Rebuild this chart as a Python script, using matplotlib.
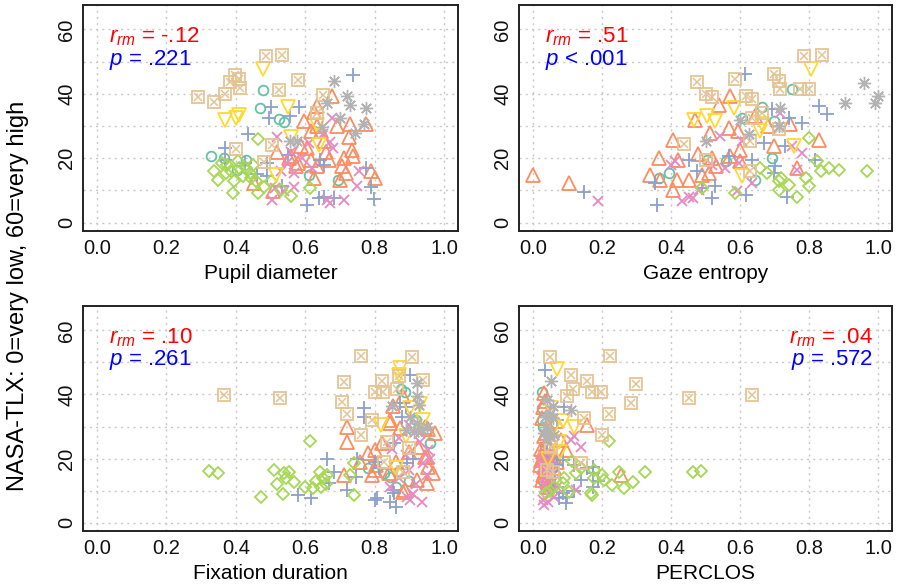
import matplotlib
matplotlib.use("Agg")
import matplotlib.pyplot as plt

plt.rcParams['font.family'] = ['Liberation Sans', 'DejaVu Sans']
plt.rcParams['mathtext.fontset'] = 'custom'
plt.rcParams['mathtext.it'] = 'Liberation Sans:italic'
plt.rcParams['mathtext.rm'] = 'Liberation Sans'

# ---- data: (measure, NASA-TLX) per participant ----
# Pupil diameter
pupil_teal = [(0.479, 41.2), (0.469, 35.7), (0.524, 32.1), (0.538, 31.2), (0.33, 20.8),
              (0.367, 20.2), (0.43, 19.6), (0.403, 16.5), (0.61, 14.7), (0.693, 13.3)]
pupil_orange = [(0.678, 39.4), (0.635, 36.3), (0.625, 34.3), (0.596, 31.6), (0.635, 30),
                (0.616, 28.4), (0.645, 28.4), (0.692, 30), (0.73, 30.5), (0.774, 30.5),
                (0.726, 26.5), (0.735, 22.7), (0.739, 20.6), (0.711, 20.2), (0.707, 17.5),
                (0.716, 15.5), (0.788, 15.9), (0.802, 14), (0.635, 17.5), (0.625, 14),
                (0.616, 19.6), (0.578, 18.6), (0.587, 23.8), (0.653, 25.3), (0.668, 19.6),
                (0.52, 21.8), (0.453, 12.4), (0.506, 9.7), (0.559, 20.6), (0.573, 17.5),
                (0.70, 13.3), (0.606, 23.2), (0.553, 20.1), (0.66, 22)]
pupil_blue = [(0.737, 46), (0.502, 35.9), (0.496, 32.6), (0.581, 35.9), (0.556, 33.1),
              (0.434, 27.4), (0.369, 23.2), (0.37, 19.6), (0.427, 18.5), (0.491, 18.5),
              (0.491, 14.4), (0.534, 11.3), (0.642, 19.6), (0.653, 18), (0.653, 8.1),
              (0.64, 7.6), (0.604, 5.5), (0.682, 7.6), (0.774, 17), (0.79, 11),
              (0.797, 7.3), (0.46, 15), (0.55, 21)]
pupil_pink = [(0.651, 27.4), (0.67, 25), (0.679, 23.2), (0.61, 24.8), (0.52, 26.5),
              (0.548, 18.5), (0.529, 15.9), (0.567, 15.4), (0.513, 10.8), (0.505, 7.1),
              (0.539, 9.7), (0.567, 11.2), (0.663, 7.1), (0.672, 6), (0.713, 7.1),
              (0.75, 11.3), (0.754, 15.9), (0.677, 32.6), (0.59, 20), (0.62, 17), (0.56, 22)]
pupil_green = [(0.465, 26), (0.338, 15.9), (0.348, 13.3), (0.372, 15.5), (0.385, 16),
               (0.41, 17.1), (0.43, 17.1), (0.44, 15.5), (0.396, 12.8), (0.391, 9.3),
               (0.458, 12.8), (0.463, 9.3), (0.376, 18), (0.444, 14), (0.42, 14.5),
               (0.45, 18), (0.529, 10.2), (0.56, 8.3), (0.615, 10.9), (0.48, 11),
               (0.36, 18.5), (0.405, 19), (0.50, 13)]
pupil_yellow = [(0.479, 47.7), (0.55, 36), (0.37, 31.8), (0.40, 32.6), (0.41, 33.5),
                (0.635, 30.3), (0.641, 24), (0.516, 14.8), (0.56, 26.5)]
pupil_tan = [(0.486, 51.7), (0.532, 52.1), (0.397, 45.8), (0.384, 43.8), (0.41, 44.6),
             (0.412, 41.7), (0.578, 44.3), (0.524, 41.3), (0.29, 39.1), (0.338, 37.5),
             (0.37, 40.1), (0.651, 39.6), (0.634, 34.0), (0.401, 22.9), (0.505, 24.0),
             (0.48, 18.8)]
pupil_gray = [(0.684, 44), (0.72, 39.4), (0.729, 36.5), (0.776, 35.7), (0.663, 37.1),
              (0.701, 32.6), (0.649, 29.8), (0.768, 30.5), (0.744, 27.9), (0.556, 25.3),
              (0.577, 25.3)]

# Gaze entropy
gaze_teal = [(0.751, 41.5), (0.664, 36), (0.606, 32.6), (0.698, 31.6), (0.504, 19.4),
             (0.364, 13.9), (0.393, 15.4), (0.693, 20.1), (0.644, 13.3), (0.56, 19)]
gaze_orange = [(0.0, 14.9), (0.106, 12.3), (0.338, 14.9), (0.364, 20.1), (0.369, 13.3),
               (0.407, 25.8), (0.419, 19.6), (0.417, 13.3), (0.407, 10.2), (0.451, 13.3),
               (0.477, 21.2), (0.49, 14.9), (0.509, 15.4), (0.531, 17.5), (0.514, 27.9),
               (0.54, 36.5), (0.57, 39.4), (0.567, 29.5), (0.593, 28.4), (0.599, 22.7),
               (0.57, 20.6), (0.644, 33.1), (0.697, 23.8), (0.746, 30.5), (0.765, 17),
               (0.828, 25.8), (0.47, 32), (0.60, 19), (0.68, 30), (0.52, 20)]
gaze_blue = [(0.614, 46.1), (0.693, 35.2), (0.741, 32.6), (0.78, 31), (0.83, 36.3),
             (0.852, 33.6), (0.818, 19.6), (0.731, 23.75), (0.702, 17.5), (0.698, 15.4),
             (0.528, 11.25), (0.519, 7.6), (0.359, 5.5), (0.147, 9.4), (0.451, 19.6),
             (0.475, 16), (0.567, 20.6), (0.635, 19.6), (0.616, 8.6), (0.49, 10.7),
             (0.736, 8.1), (0.668, 24.8), (0.355, 12.3)]
gaze_pink = [(0.19, 6.6), (0.432, 6.6), (0.451, 8.1), (0.465, 7.5), (0.48, 10.2),
             (0.519, 18), (0.557, 17), (0.543, 26.9), (0.606, 25.3), (0.596, 18.5),
             (0.635, 12.3), (0.591, 9.7), (0.751, 23.75), (0.78, 21.7), (0.765, 16.5),
             (0.717, 34.2), (0.413, 19.1), (0.40, 18)]
gaze_green = [(0.8, 26.4), (0.823, 19.1), (0.833, 15.9), (0.857, 17), (0.886, 16.5),
              (0.968, 15.9), (0.659, 17), (0.678, 15.4), (0.712, 12.8), (0.712, 10.2),
              (0.741, 11.8), (0.765, 8.1), (0.799, 11.25), (0.79, 13.9), (0.586, 9.2),
              (0.49, 10.7), (0.72, 14)]
gaze_yellow = [(0.806, 47.7), (0.582, 35.7), (0.466, 31.9), (0.504, 33.1), (0.528, 31.6),
               (0.664, 30.5), (0.659, 28.4), (0.606, 14.4), (0.756, 23.75)]
gaze_tan = [(0.475, 43.75), (0.5, 40.1), (0.519, 39.1), (0.586, 44.6), (0.616, 39.4),
            (0.635, 38.3), (0.635, 32.6), (0.664, 34.2), (0.698, 46.1), (0.713, 44),
            (0.717, 41.5), (0.775, 41.5), (0.799, 41.5), (0.785, 51.7), (0.838, 52.1),
            (0.437, 24.3), (0.63, 25.3), (0.63, 15.9), (0.713, 29), (0.5, 19.6)]
gaze_gray = [(0.958, 43.5), (0.905, 37.3), (0.99, 37.3), (1.0, 39.4), (0.717, 35.7),
             (0.712, 30), (0.625, 27.4), (0.5, 25.3), (0.6, 32)]

# Fixation duration
fix_teal = [(0.888, 40.9), (0.877, 41.7), (0.826, 15.4), (0.845, 14.4), (0.87, 16),
            (0.92, 32), (0.78, 17), (0.9, 13), (0.86, 11), (0.96, 25)]
fix_orange = [(0.72, 30), (0.72, 25.3), (0.711, 14.9), (0.759, 19), (0.792, 14.9),
              (0.78, 21.7), (0.845, 31), (0.883, 39.4), (0.853, 36.3), (0.845, 32.1),
              (0.872, 29.6), (0.974, 27.9), (0.955, 29.2), (0.946, 30), (0.802, 22.6),
              (0.95, 20.6), (0.955, 17.5), (0.969, 15.6), (0.922, 13.3), (0.95, 12.3),
              (0.802, 16.5), (0.84, 15.6), (0.883, 9.7), (0.925, 23.75), (0.946, 20.6),
              (0.887, 10.2), (0.805, 18), (0.82, 25), (0.9, 22), (0.86, 19)]
fix_blue = [(0.578, 8.6), (0.616, 7.6), (0.663, 19.8), (0.682, 15.9), (0.669, 12.3),
            (0.72, 10.2), (0.747, 14.4), (0.77, 35.7), (0.77, 33.1), (0.806, 7.6),
            (0.854, 10.2), (0.86, 5), (0.903, 46.1), (0.874, 37.3), (0.89, 36),
            (0.812, 17), (0.802, 7.1), (0.845, 6.6), (0.855, 9.2), (0.855, 24.8),
            (0.893, 18.6), (0.91, 20), (0.88, 33), (0.75, 20), (0.8, 19)]
fix_pink = [(0.898, 30.5), (0.869, 26.4), (0.931, 25.3), (0.94, 18.6), (0.955, 22.7),
            (0.96, 20), (0.903, 7.1), (0.893, 8), (0.91, 9), (0.936, 6.6), (0.845, 11.25),
            (0.898, 16.5), (0.87, 14), (0.92, 12), (0.95, 15), (0.89, 21), (0.85, 23),
            (0.93, 28)]
fix_green = [(0.323, 16.1), (0.35, 15.6), (0.51, 16.5), (0.52, 12.1), (0.473, 8.1),
             (0.537, 9), (0.538, 15.4), (0.552, 15.9), (0.567, 12.8), (0.545, 14),
             (0.615, 25.6), (0.643, 15.9), (0.65, 14), (0.663, 14.9), (0.644, 11.25),
             (0.621, 10.7), (0.66, 12), (0.74, 8.6), (0.74, 18.75), (0.73, 15),
             (0.63, 13), (0.60, 11)]
fix_yellow = [(0.874, 48.2), (0.87, 46), (0.903, 35.7), (0.94, 32), (0.817, 30.5),
              (0.86, 17), (0.89, 27), (0.93, 37)]
fix_tan = [(0.366, 39.9), (0.526, 38.9), (0.762, 51.9), (0.907, 51.6), (0.711, 43.75),
           (0.705, 37.5), (0.72, 33.9), (0.761, 27.4), (0.802, 40.9), (0.821, 44.1),
           (0.824, 40.9), (0.864, 41.7), (0.869, 45.8), (0.94, 44.6), (0.793, 32.1),
           (0.836, 25.3), (0.898, 23.2), (0.826, 19), (0.883, 15.9)]
fix_gray = [(0.922, 43.6), (0.922, 39.4), (0.927, 36.8), (0.85, 36.3), (0.922, 31.1),
            (0.912, 28.4), (0.936, 28.9), (0.95, 30), (0.903, 33.1), (0.89, 29)]

# PERCLOS
perclos_teal = [(0.028, 40.9), (0.028, 35.7), (0.026, 32), (0.03, 30), (0.04, 16),
                (0.05, 14), (0.035, 24), (0.06, 19), (0.045, 21), (0.03, 13)]
perclos_orange = [(0.032, 40.4), (0.035, 38), (0.028, 32.6), (0.066, 31.6), (0.033, 26.9),
                  (0.158, 30.5), (0.081, 25.8), (0.095, 22.7), (0.023, 19.6), (0.033, 17.5),
                  (0.036, 16), (0.028, 13.3), (0.042, 11.25), (0.255, 14.9), (0.029, 20.1),
                  (0.04, 21), (0.025, 23), (0.05, 18), (0.03, 15), (0.045, 14),
                  (0.06, 17), (0.02, 18), (0.04, 25), (0.05, 29), (0.03, 36),
                  (0.045, 12.5), (0.055, 20), (0.03, 22), (0.07, 19), (0.038, 28)]
perclos_blue = [(0.034, 47.5), (0.071, 32.1), (0.061, 20.6), (0.086, 19.6), (0.119, 18.1),
                (0.158, 17), (0.173, 17.5), (0.175, 15.5), (0.057, 11.25), (0.086, 9.2),
                (0.095, 6.1), (0.139, 13.3), (0.173, 11.25), (0.077, 7.6), (0.1, 8),
                (0.05, 16), (0.04, 22), (0.065, 14), (0.19, 13), (0.12, 10),
                (0.09, 36), (0.045, 27), (0.07, 18)]
perclos_pink = [(0.11, 25.8), (0.12, 27), (0.139, 23.75), (0.124, 10.2), (0.033, 5.5),
                (0.03, 7), (0.043, 6.6), (0.05, 9), (0.035, 12), (0.04, 15), (0.03, 17),
                (0.045, 18), (0.025, 19), (0.06, 13), (0.055, 20), (0.035, 14),
                (0.06, 8), (0.04, 10.5), (0.05, 16.5), (0.03, 21), (0.07, 11)]
perclos_green = [(0.222, 25.6), (0.113, 19.1), (0.125, 15.4), (0.178, 16.5), (0.178, 13.9),
                 (0.207, 13.3), (0.23, 11.8), (0.25, 15.9), (0.265, 10.7), (0.289, 12.8),
                 (0.326, 15.9), (0.463, 15.9), (0.487, 16.1), (0.169, 9.2), (0.172, 8.5),
                 (0.106, 9.7), (0.087, 12.3), (0.039, 9.2), (0.06, 11), (0.14, 17),
                 (0.2, 15), (0.09, 14), (0.05, 10)]
perclos_yellow = [(0.07, 48), (0.087, 31.6), (0.12, 30), (0.053, 35.7), (0.076, 25.3),
                  (0.06, 30), (0.045, 20), (0.08, 22)]
perclos_tan = [(0.051, 51.6), (0.224, 51.9), (0.11, 46), (0.156, 44.1), (0.115, 41.7),
               (0.098, 39.4), (0.172, 40.9), (0.196, 40.9), (0.299, 43.3), (0.284, 37.3),
               (0.453, 38.9), (0.636, 39.9), (0.149, 32.6), (0.22, 33.9), (0.2, 27.4),
               (0.139, 18.75), (0.057, 15.9), (0.052, 23.75), (0.04, 16.5)]
perclos_gray = [(0.052, 44.1), (0.042, 38.3), (0.057, 36.3), (0.11, 35.2), (0.05, 34),
                (0.057, 32.6), (0.037, 30), (0.033, 28), (0.045, 29), (0.06, 27.5),
                (0.035, 33), (0.04, 26)]

panel_names = ["Pupil diameter", "Gaze entropy", "Fixation duration", "PERCLOS"]
r_labels = ["-.12", ".51", ".10", ".04"]
p_labels = ["= .221", "< .001", "= .261", "= .572"]

panels = [
    [pupil_teal, pupil_orange, pupil_blue, pupil_pink, pupil_green, pupil_yellow, pupil_tan, pupil_gray],
    [gaze_teal, gaze_orange, gaze_blue, gaze_pink, gaze_green, gaze_yellow, gaze_tan, gaze_gray],
    [fix_teal, fix_orange, fix_blue, fix_pink, fix_green, fix_yellow, fix_tan, fix_gray],
    [perclos_teal, perclos_orange, perclos_blue, perclos_pink, perclos_green, perclos_yellow,
     perclos_tan, perclos_gray],
]

# marker styles per participant (R pch 1..8 with Set2 colours)
colors = ['#66C2A5', '#FC8D62', '#8DA0CB', '#E78AC3', '#A6D854', '#FFD92F', '#E5C494', '#B3B3B3']
markers = ['o', '^', '+', 'x', 'D', 'v', 's', (8, 2, 0)]
sizes = [7, 10, 9.5, 7.5, 6, 10, 8.5, 9.5]
widths = [1.3, 1.3, 1.3, 1.3, 1.3, 1.3, 1.3, 1.0]

fig = plt.figure(figsize=(8.97, 5.86), dpi=100)
W, H = 897, 586
boxes = [(83, 5, 458, 231), (519, 5, 892, 231), (83, 306, 458, 531), (519, 306, 892, 531)]

for k, (l, t, r, b) in enumerate(boxes):
    ax = fig.add_axes([l / W, 1 - b / H, (r - l) / W, (b - t) / H])
    ax.set_xlim(-0.04, 1.04)
    ax.set_ylim(-2.6, 67.6)
    ax.set_xticks([0, 0.2, 0.4, 0.6, 0.8, 1.0])
    ax.set_xticklabels(["0.0", "0.2", "0.4", "0.6", "0.8", "1.0"])
    ax.set_yticks([0, 10, 20, 30, 40, 50, 60])
    ax.set_yticklabels(["0", "", "20", "", "40", "", "60"], rotation=90, va='center')
    ax.grid(True, color='#c8c8c8', linestyle=(0, (1.5, 3)), linewidth=1.0)
    ax.set_axisbelow(True)
    ax.tick_params(length=0, labelsize=14.5, colors='#111111', pad=6)
    ax.tick_params(axis='y', pad=5)
    for s in ax.spines.values():
        s.set_color('#222222')
        s.set_linewidth(1.4)
    ax.set_xlabel(panel_names[k], fontsize=15, labelpad=4)

    for g, pts in enumerate(panels[k]):
        xs = [p[0] for p in pts]
        ys = [p[1] for p in pts]
        ax.plot(xs, ys, linestyle='none', marker=markers[g], markersize=sizes[g],
                markerfacecolor='none', markeredgecolor=colors[g], markeredgewidth=widths[g])
        if g == 6:
            # boxed cross (R pch 7)
            ax.plot(xs, ys, linestyle='none', marker='x', markersize=sizes[g] * 0.7,
                    markeredgecolor=colors[g], markeredgewidth=1.1)

    if k == 3:
        tx, ha = 0.985, 'right'
    else:
        tx, ha = 0.035, 'left'
    ax.text(tx, 57.7, r'$r_{rm}$ = ' + r_labels[k], color='red', fontsize=16, ha=ha, va='center')
    ax.text(tx, 50.6, r'$p$ ' + p_labels[k], color='blue', fontsize=16, ha=ha, va='center')

fig.text(18 / W, 290 / H, "NASA-TLX: 0=very low, 60=very high", rotation=90,
         ha='center', va='center', fontsize=17)

fig.savefig("out.png", dpi=100)
